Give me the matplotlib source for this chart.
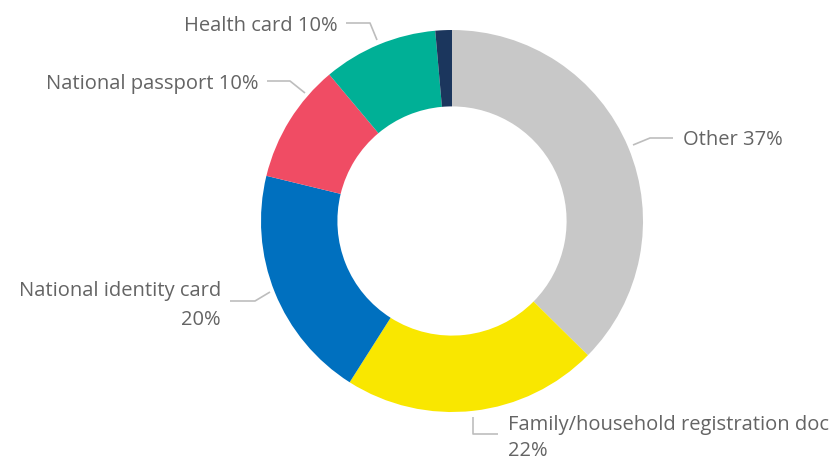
import numpy as np
import matplotlib.pyplot as plt

# données (sens horaire depuis midi)
categories = ["Other", "Family/household registration doc", "National identity card",
              "National passport", "Health card", ""]
values = [37.4, 21.6, 19.8, 10.1, 9.7, 1.4]
pct_labels = ["37%", "22%", "20%", "10%", "10%", ""]
colors = ["#C8C8C8", "#F9E700", "#0070BF", "#F04C64", "#00B096", "#1B365D"]

plt.rcParams['font.family'] = ['Open Sans', 'DejaVu Sans']

fig = plt.figure(figsize=(8.3, 4.6), dpi=100)
ax = fig.add_axes([0, 0, 1, 1])

cx, cy, R = 452, 222, 191
# axe y inversé : départ en haut et sens horaire visuel
ax.pie(values, colors=colors, center=(cx, cy), radius=R, startangle=-90,
       counterclock=True, wedgeprops=dict(width=0.4 * R, linewidth=0),
       frame=True)
ax.set_xlim(0, 830)
ax.set_ylim(460, 0)   # coordonnées en pixels, y vers le bas
ax.axis('off')

txt = "#646464"
lc = "#BDBDBD"
fs = 14.5

# lignes de rappel (x, y)
leaders = [
    [(633, 146), (650, 139), (673, 139)],
    [(473, 418), (473, 435), (498, 435)],
    [(270, 293), (255, 302), (230, 302)],
    [(305, 94), (290, 82), (267, 82)],
    [(377, 41), (370, 24), (346, 24)],
]
for pts in leaders:
    xs, ys = zip(*pts)
    ax.plot(xs, ys, color=lc, lw=1.2, solid_capstyle='butt')

ax.text(683, 140, categories[0] + " " + pct_labels[0], color=txt, fontsize=fs,
        ha='left', va='center')
ax.text(508, 425, categories[1], color=txt, fontsize=fs, ha='left', va='center')
ax.text(508, 451, pct_labels[1], color=txt, fontsize=fs, ha='left', va='center')
ax.text(221, 291, categories[2], color=txt, fontsize=fs, ha='right', va='center')
ax.text(221, 320, pct_labels[2], color=txt, fontsize=fs, ha='right', va='center')
ax.text(258, 84, categories[3] + " " + pct_labels[3], color=txt, fontsize=fs,
        ha='right', va='center')
ax.text(338, 26, categories[4] + " " + pct_labels[4], color=txt, fontsize=fs,
        ha='right', va='center')

fig.savefig("out.png", dpi=100)
